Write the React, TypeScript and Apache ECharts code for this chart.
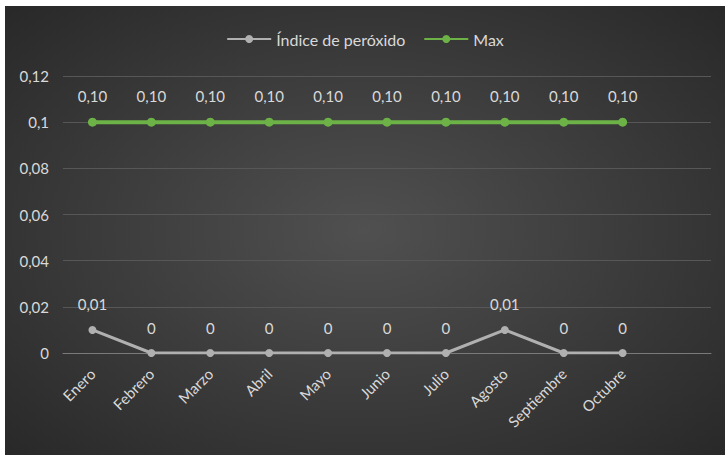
import React, { useEffect, useRef } from "react";
import * as echarts from "echarts";

const categories = ["Enero", "Febrero", "Marzo", "Abril", "Mayo", "Junio", "Julio", "Agosto", "Septiembre", "Octubre", ""];
const peroxido = [0.01, 0, 0, 0, 0, 0, 0, 0.01, 0, 0, null];
const maxValues = [0.1, 0.1, 0.1, 0.1, 0.1, 0.1, 0.1, 0.1, 0.1, 0.1, null];
const seriesNames = ["Índice de peróxido", "Max"];

const FONT = "Lato, 'Open Sans', sans-serif";
const TEXT = "#d9d9d9";

export default function App() {
  const ref = useRef<HTMLDivElement>(null);
  useEffect(() => {
    document.body.style.margin = "0";
    const chart = echarts.init(ref.current!, undefined, { renderer: "svg" });
    chart.setOption({
      animation: false,
      backgroundColor: new echarts.graphic.RadialGradient(0.5, 0.5, 0.75, [
        { offset: 0, color: "#505050" },
        { offset: 1, color: "#262626" },
      ]),
      textStyle: { fontFamily: FONT },
      legend: {
        top: 20,
        left: "center",
        itemWidth: 44,
        itemHeight: 10,
        itemGap: 18,
        textStyle: { color: TEXT, fontSize: 16, fontFamily: FONT },
        data: seriesNames,
      },
      grid: { left: 58, right: 14, top: 70, bottom: 102, containLabel: false },
      xAxis: {
        type: "category",
        data: categories,
        boundaryGap: true,
        axisLine: { show: true, lineStyle: { color: "#7a7a7a", width: 1 } },
        axisTick: { show: false },
        axisLabel: { color: TEXT, fontSize: 15, rotate: 45, margin: 18, interval: 0, fontFamily: FONT },
      },
      yAxis: {
        type: "value",
        min: 0,
        max: 0.12,
        interval: 0.02,
        axisLine: { show: false },
        axisTick: { show: false },
        splitLine: { lineStyle: { color: "#575757", width: 1 } },
        axisLabel: {
          color: TEXT,
          fontSize: 15,
          margin: 14,
          fontFamily: FONT,
          formatter: (v: number) => String(+v.toFixed(2)).replace(".", ","),
        },
      },
      series: [
        {
          name: seriesNames[0],
          type: "line",
          data: peroxido,
          color: "#b0b0b0",
          symbol: "circle",
          symbolSize: 8,
          lineStyle: { width: 3, color: "#b0b0b0" },
          itemStyle: { color: "#b0b0b0" },
          label: {
            show: true,
            position: "top",
            distance: 14,
            color: TEXT,
            fontSize: 15,
            fontFamily: FONT,
            formatter: (p: any) => (p.value === 0 ? "0" : Number(p.value).toFixed(2).replace(".", ",")),
          },
        },
        {
          name: seriesNames[1],
          type: "line",
          data: maxValues,
          color: "#6cb247",
          symbol: "circle",
          symbolSize: 9,
          lineStyle: { width: 4, color: "#6cb247" },
          itemStyle: { color: "#6cb247" },
          label: {
            show: true,
            position: "top",
            distance: 14,
            color: TEXT,
            fontSize: 15,
            fontFamily: FONT,
            formatter: (p: any) => Number(p.value).toFixed(2).replace(".", ","),
          },
        },
      ],
    });
    return () => chart.dispose();
  }, []);
  return (
    <div style={{ position: "absolute", left: 0, top: 0, width: 725, height: 455, background: "#ffffff" }}>
      <div ref={ref} style={{ position: "absolute", left: 5, top: 6, width: 720, height: 449 }} />
    </div>
  );
}
